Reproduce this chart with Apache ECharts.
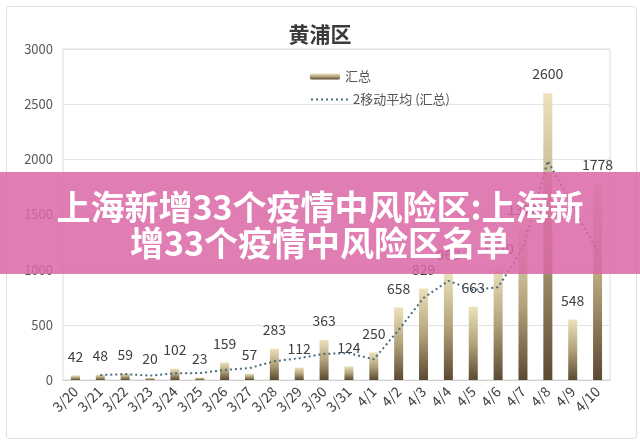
<!DOCTYPE html>
<html><head><meta charset="utf-8">
<script src="https://cdn.jsdelivr.net/npm/echarts@6/dist/echarts.min.js"></script>
<style>html,body{margin:0;padding:0;background:#fff}#c{width:640px;height:446px}</style>
</head><body><div id="c"></div>
<script>
const categories = ['3/20','3/21','3/22','3/23','3/24','3/25','3/26','3/27','3/28','3/29','3/30','3/31','4/1','4/2','4/3','4/4','4/5','4/6','4/7','4/8','4/9','4/10'];
const totals = [42,48,59,20,102,23,159,57,283,112,363,124,250,658,829,968,663,1020,1370,2600,548,1778];
const movingAvg = [null,45,53.5,39.5,61,62.5,91,108,170,197.5,237.5,243.5,187,454,743.5,898.5,815.5,841.5,1195,1985,1574,1163];
const yTicks = {min:0, max:3000, interval:500};
const titleText = '黄浦区';
const barName = '汇总';
const lineName = '2移动平均 (汇总)';
const bannerLines = ['上海新增33个疫情中风险区:上海新', '增33个疫情中风险区名单'];

const chart = echarts.init(document.getElementById('c'), null, {renderer:'canvas'});
const font = '"Microsoft YaHei","Noto Sans CJK SC","Noto Sans",sans-serif';
chart.setOption({
  backgroundColor:'#fff',
  animation:false,
  textStyle:{fontFamily:font},
  title:{text:titleText,left:'center',top:19,textStyle:{fontSize:21,fontWeight:'bold',color:'#3a3a3a',fontFamily:font}},
  legend:[
    {data:[barName],left:305,top:65,orient:'vertical',itemWidth:30,itemHeight:6,itemGap:6,
     textStyle:{fontSize:13,color:'#555'}},
    {data:[{name:lineName,itemStyle:{opacity:0}}],left:305,top:88,orient:'vertical',itemWidth:37,itemHeight:6,
     textStyle:{fontSize:13,color:'#555'}}
  ],
  grid:{left:63,right:30,top:49,bottom:66,show:true,borderColor:'#dcdcdc',borderWidth:1},
  xAxis:{type:'category',data:categories,
    axisLine:{lineStyle:{color:'#d0d0d0'}},axisTick:{show:false},
    axisLabel:{rotate:45,fontSize:14,color:'#404040',margin:9,interval:0}},
  yAxis:{type:'value',min:yTicks.min,max:yTicks.max,interval:yTicks.interval,
    axisLine:{show:false},axisTick:{show:false},
    axisLabel:{fontSize:13,color:'#595959',margin:10,formatter:function(v){return String(v);}},
    splitLine:{lineStyle:{color:'#e3e3e3'}}},
  series:[
    {name:barName,type:'bar',data:totals,barWidth:9,
     itemStyle:{color:new echarts.graphic.LinearGradient(0,0,0,1,[
       {offset:0,color:'#ebe2bb'},{offset:0.5,color:'#b3a37b'},{offset:1,color:'#5b4a31'}])},
     label:{show:true,position:'top',distance:12,fontSize:14,color:'#404040'}},
    {name:lineName,type:'line',data:movingAvg,symbol:'none',connectNulls:false,
     lineStyle:{color:'#4a6b7c',width:2,type:[2,3]},itemStyle:{color:'#4a6b7c'},z:3}
  ],
  graphic:[
    {type:'rect',left:4,top:4,shape:{width:630,height:432,r:3},style:{fill:'none',stroke:'#e0e0e0',lineWidth:1},z:1,silent:true},
    {type:'rect',left:0,top:172,shape:{width:640,height:102},style:{fill:'rgba(219,103,167,0.85)'},z:100,silent:true},
    {type:'text',left:'center',top:190,style:{text:bannerLines[0],fill:'#fff',font:'bold 34px '+font},z:101,silent:true},
    {type:'text',left:'center',top:226,style:{text:bannerLines[1],fill:'#fff',font:'bold 34px '+font},z:101,silent:true}
  ]
});
</script></body></html>
